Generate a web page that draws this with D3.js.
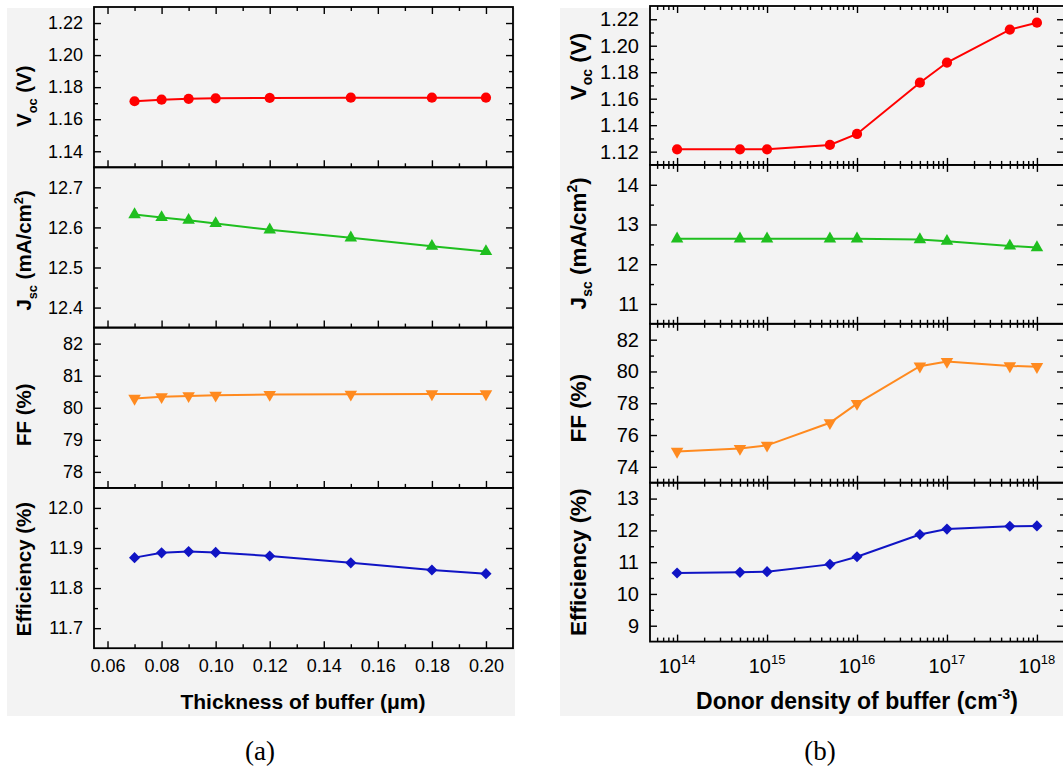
<!DOCTYPE html>
<html>
<head>
<meta charset="utf-8">
<script src="https://cdn.jsdelivr.net/npm/d3@7"></script>
<style>
  body { margin: 0; background: #ffffff; }
  text { font-family: "Liberation Sans", Arial, sans-serif; }
</style>
</head>
<body>
<svg id="chart" width="1063" height="771"></svg>
<script>
// ---- (a) buffer thickness sweep ----
const thickness = [0.07, 0.08, 0.09, 0.10, 0.12, 0.15, 0.18, 0.20];
const vocThick  = [1.1712, 1.1722, 1.1727, 1.1730, 1.1733, 1.1734, 1.1734, 1.1734];
const jscThick  = [12.632, 12.625, 12.618, 12.610, 12.594, 12.574, 12.553, 12.540];
const ffThick   = [80.29, 80.34, 80.37, 80.39, 80.41, 80.42, 80.43, 80.43];
const effThick  = [11.876, 11.888, 11.891, 11.889, 11.880, 11.863, 11.845, 11.836];

// ---- (b) buffer donor density sweep ----
const donor     = [1e14, 5e14, 1e15, 5e15, 1e16, 5e16, 1e17, 5e17, 1e18];
const vocDonor  = [1.1218, 1.1218, 1.1218, 1.1251, 1.1334, 1.1721, 1.1873, 1.2122, 1.2174];
const jscDonor  = [12.64, 12.64, 12.64, 12.64, 12.64, 12.62, 12.58, 12.46, 12.42];
const ffDonor   = [74.97, 75.15, 75.35, 76.77, 77.98, 80.33, 80.62, 80.35, 80.30];
const effDonor  = [10.66, 10.68, 10.70, 10.93, 11.17, 11.87, 12.04, 12.13, 12.14];

// ---- axis ticks ----
const thickTicks      = [0.06, 0.08, 0.10, 0.12, 0.14, 0.16, 0.18, 0.20];
const thickMinorTicks = [0.07, 0.09, 0.11, 0.13, 0.15, 0.17, 0.19];
const donorTicks      = [1e14, 1e15, 1e16, 1e17, 1e18];
const donorMinorMult  = [2, 3, 4, 5, 6, 7, 8, 9];

const vocThickTicks = [1.14, 1.16, 1.18, 1.20, 1.22];
const vocThickMinor = [1.15, 1.17, 1.19, 1.21];
const jscThickTicks = [12.4, 12.5, 12.6, 12.7];
const jscThickMinor = [12.45, 12.55, 12.65];
const ffThickTicks  = [78, 79, 80, 81, 82];
const ffThickMinor  = [78.5, 79.5, 80.5, 81.5];
const effThickTicks = [11.7, 11.8, 11.9, 12.0];
const effThickMinor = [11.75, 11.85, 11.95];

const vocDonorTicks = [1.12, 1.14, 1.16, 1.18, 1.20, 1.22];
const vocDonorMinor = [1.13, 1.15, 1.17, 1.19, 1.21];
const jscDonorTicks = [11, 12, 13, 14];
const jscDonorMinor = [11.5, 12.5, 13.5];
const ffDonorTicks  = [74, 76, 78, 80, 82];
const ffDonorMinor  = [75, 77, 79, 81];
const effDonorTicks = [9, 10, 11, 12, 13];
const effDonorMinor = [9.5, 10.5, 11.5, 12.5];

const COLORS = { voc: "#ff0000", jsc: "#1fbf1f", ff: "#ff8a1f", eff: "#1014c4" };

const svg = d3.select("#chart");

// light paper tone behind each figure
svg.append("rect").attr("x", 7).attr("y", 8).attr("width", 508).attr("height", 708).attr("fill", "#f3f3f3");
svg.append("rect").attr("x", 560).attr("y", 8).attr("width", 503).attr("height", 708).attr("fill", "#f3f3f3");

const blockA = { x0: 94, x1: 513, top: 7, h: 160.3, tickFont: 18, titleFont: 20.5, labelX: 24, topTicksEach: false };
const blockB = { x0: 650, x1: 1064, top: 6, h: 158.9, tickFont: 20, titleFont: 22.5, labelX: 578, topTicksEach: true };

const xThick = d3.scaleLinear().domain([0.055, 0.21]).range([blockA.x0, blockA.x1]);
const xDonor = d3.scaleLog().domain([5e13, 2e18]).range([blockB.x0, blockB.x1]);

const donorMinor = [];
[1e13, 1e14, 1e15, 1e16, 1e17].forEach(dec => donorMinorMult.forEach(m => {
  const v = dec * m;
  if (v > 5e13 && v < 2e18) donorMinor.push(v);
}));

const symCircle = d3.symbol(d3.symbolCircle, 82)();
const symTri    = d3.symbol(d3.symbolTriangle, 68)();
const symSquare = d3.symbol(d3.symbolSquare, 62)();

const markers = {
  circle:  { d: symCircle, rot: 0 },
  up:      { d: symTri, rot: 0 },
  down:    { d: symTri, rot: 180 },
  diamond: { d: symSquare, rot: 45 }
};

function clean(g) {
  g.select(".domain").remove();
  g.selectAll(".tick line").attr("stroke", "#000").attr("stroke-width", 1.4);
  g.selectAll("text").attr("font-family", "'Liberation Sans', Arial, sans-serif").attr("fill", "#000");
}

// Text with optional sub/superscript pieces: [[text, kind], ...]; base shifts the whole line
function richText(sel, parts, size, base = 0) {
  let shift = 0;
  parts.forEach(([t, kind], idx) => {
    const sp = sel.append("tspan").text(t);
    let target = 0;
    if (kind === "sub") { sp.attr("font-size", size * 0.62); target = size * 0.28; }
    else if (kind === "sup") { sp.attr("font-size", size * 0.62); target = -size * 0.42; }
    sp.attr("dy", target - shift + (idx === 0 ? base : 0));
    shift = target;
  });
}

function drawPanel(block, x, xMajor, xMinor, xs, i, spec) {
  const y0 = block.top + i * block.h, y1 = y0 + block.h;
  const y = d3.scaleLinear().domain(spec.domain).range([y1, y0]);
  const g = svg.append("g");

  // left axis with labels
  g.append("g").attr("transform", `translate(${block.x0},0)`)
    .call(d3.axisLeft(y).tickValues(spec.major).tickSize(-7).tickPadding(11).tickFormat(d3.format(spec.fmt)))
    .call(clean).attr("font-size", block.tickFont);
  g.append("g").attr("transform", `translate(${block.x0},0)`)
    .call(d3.axisLeft(y).tickValues(spec.minor).tickSize(-4).tickFormat(""))
    .call(clean);
  // right mirror ticks
  g.append("g").attr("transform", `translate(${block.x1},0)`)
    .call(d3.axisRight(y).tickValues(spec.major).tickSize(-7).tickFormat(""))
    .call(clean);
  g.append("g").attr("transform", `translate(${block.x1},0)`)
    .call(d3.axisRight(y).tickValues(spec.minor).tickSize(-4).tickFormat(""))
    .call(clean);
  // bottom ticks (inward)
  g.append("g").attr("transform", `translate(0,${y1})`)
    .call(d3.axisBottom(x).tickValues(xMajor).tickSize(-7).tickFormat(""))
    .call(clean);
  g.append("g").attr("transform", `translate(0,${y1})`)
    .call(d3.axisBottom(x).tickValues(xMinor).tickSize(-4).tickFormat(""))
    .call(clean);
  // top ticks (inward)
  if (i === 0 || block.topTicksEach) {
    g.append("g").attr("transform", `translate(0,${y0})`)
      .call(d3.axisTop(x).tickValues(xMajor).tickSize(-7).tickFormat(""))
      .call(clean);
    g.append("g").attr("transform", `translate(0,${y0})`)
      .call(d3.axisTop(x).tickValues(xMinor).tickSize(-4).tickFormat(""))
      .call(clean);
  }

  // frame
  g.append("rect").attr("x", block.x0).attr("y", y0)
    .attr("width", block.x1 - block.x0).attr("height", y1 - y0)
    .attr("fill", "none").attr("stroke", "#000").attr("stroke-width", 1.8);

  // series
  const pts = xs.map((xv, k) => [x(xv), y(spec.values[k])]);
  g.append("path").attr("d", d3.line()(pts))
    .attr("fill", "none").attr("stroke", spec.color).attr("stroke-width", 2);
  const m = markers[spec.marker];
  g.selectAll(null).data(pts).join("path")
    .attr("d", m.d)
    .attr("transform", p => `translate(${p[0]},${p[1]}) rotate(${m.rot})`)
    .attr("fill", spec.color);

  // y title
  const cy = (y0 + y1) / 2 + (spec.labelShift || 0);
  const t = g.append("text")
    .attr("transform", `translate(${block.labelX},${cy}) rotate(-90)`)
    .attr("text-anchor", "middle").attr("font-weight", "bold")
    .attr("font-size", block.titleFont).attr("fill", "#000");
  richText(t, spec.label, block.titleFont, block.titleFont * 0.36);
}

const panelsA = [
  { values: vocThick, domain: [1.13, 1.23], major: vocThickTicks, minor: vocThickMinor, fmt: ".2f", color: COLORS.voc, marker: "circle", label: [["V"], ["oc", "sub"], [" (V)"]], labelShift: 9 },
  { values: jscThick, domain: [12.35, 12.75], major: jscThickTicks, minor: jscThickMinor, fmt: ".1f", color: COLORS.jsc, marker: "up", label: [["J"], ["sc", "sub"], [" (mA/cm"], ["2", "sup"], [")"]], labelShift: 3 },
  { values: ffThick, domain: [77.5, 82.5], major: ffThickTicks, minor: ffThickMinor, fmt: "d", color: COLORS.ff, marker: "down", label: [["FF (%)"]], labelShift: 7 },
  { values: effThick, domain: [11.65, 12.05], major: effThickTicks, minor: effThickMinor, fmt: ".1f", color: COLORS.eff, marker: "diamond", label: [["Efficiency (%)"]], labelShift: 1 }
];

const panelsB = [
  { values: vocDonor, domain: [1.11, 1.23], major: vocDonorTicks, minor: vocDonorMinor, fmt: ".2f", color: COLORS.voc, marker: "circle", label: [["V"], ["oc", "sub"], [" (V)"]], labelShift: -19 },
  { values: jscDonor, domain: [10.5, 14.5], major: jscDonorTicks, minor: jscDonorMinor, fmt: "d", color: COLORS.jsc, marker: "up", label: [["J"], ["sc", "sub"], [" (mA/cm"], ["2", "sup"], [")"]], labelShift: -1 },
  { values: ffDonor, domain: [73, 83], major: ffDonorTicks, minor: ffDonorMinor, fmt: "d", color: COLORS.ff, marker: "down", label: [["FF (%)"]], labelShift: 5 },
  { values: effDonor, domain: [8.5, 13.5], major: effDonorTicks, minor: effDonorMinor, fmt: "d", color: COLORS.eff, marker: "diamond", label: [["Efficiency (%)"]], labelShift: 0 }
];

panelsA.forEach((p, i) => drawPanel(blockA, xThick, thickTicks, thickMinorTicks, thickness, i, p));
panelsB.forEach((p, i) => drawPanel(blockB, xDonor, donorTicks, donorMinor, donor, i, p));

// ---- x tick labels ----
const baseA = blockA.top + 4 * blockA.h;
svg.append("g").attr("transform", `translate(0,${baseA})`)
  .call(d3.axisBottom(xThick).tickValues(thickTicks).tickSize(0).tickPadding(11).tickFormat(d3.format(".2f")))
  .call(clean).attr("font-size", blockA.tickFont)
  .call(g => g.selectAll(".tick line").remove());

const baseB = blockB.top + 4 * blockB.h;
const expFmt = d => String(Math.round(Math.log10(d)));
svg.append("g").selectAll("text").data(donorTicks).join("text")
  .attr("x", d => xDonor(d)).attr("y", baseB + 31)
  .attr("text-anchor", "middle").attr("font-size", blockB.tickFont).attr("fill", "#000")
  .each(function (d) {
    const t = d3.select(this);
    t.append("tspan").text("10");
    t.append("tspan").text(expFmt(d)).attr("font-size", 13).attr("dy", -9);
  });

// ---- x titles ----
svg.append("text").attr("x", 303).attr("y", 709)
  .attr("text-anchor", "middle").attr("font-weight", "bold").attr("font-size", 21)
  .text("Thickness of buffer (μm)");

const tB = svg.append("text").attr("x", 857).attr("y", 709)
  .attr("text-anchor", "middle").attr("font-weight", "bold").attr("font-size", 23);
richText(tB, [["Donor density of buffer (cm"], ["-3", "sup"], [")"]], 23);

// ---- figure captions ----
svg.append("text").attr("x", 260).attr("y", 760).attr("text-anchor", "middle")
  .attr("font-size", 27).text("(a)")
  .style("font-family", "'Liberation Serif', 'Times New Roman', serif");
svg.append("text").attr("x", 820).attr("y", 760).attr("text-anchor", "middle")
  .attr("font-size", 27).text("(b)")
  .style("font-family", "'Liberation Serif', 'Times New Roman', serif");
</script>
</body>
</html>
